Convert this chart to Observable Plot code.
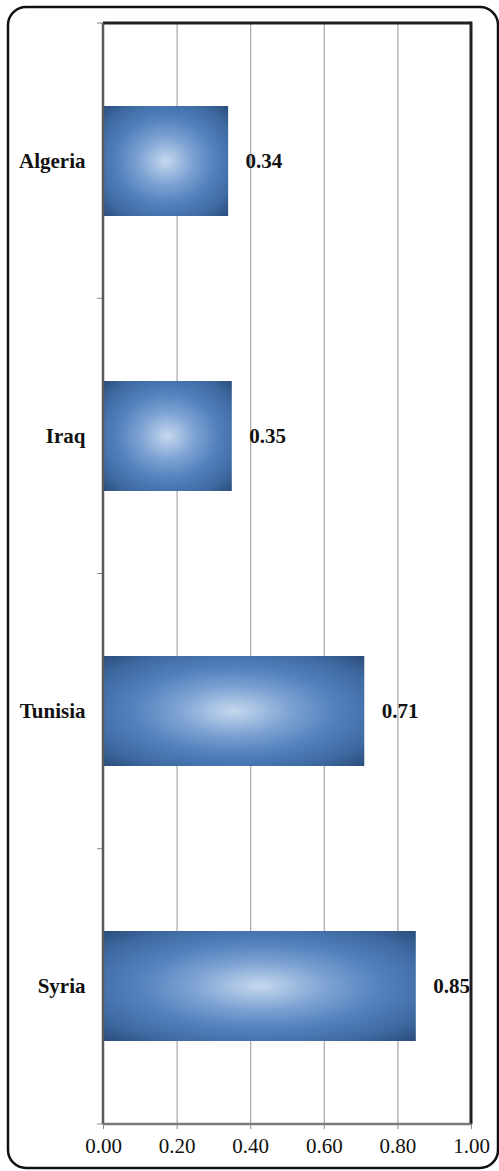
<!DOCTYPE html>
<html><head><meta charset="utf-8">
<script src="https://cdn.jsdelivr.net/npm/d3@7"></script>
<script src="https://cdn.jsdelivr.net/npm/@observablehq/plot@0.6"></script>
<style>
body{margin:0;background:#fff;}
svg{display:block}
svg text {font-family: "Liberation Serif", "Times New Roman", serif !important;}
</style>
</head><body><div id="chart"></div>
<script>
const countries = ["Algeria", "Iraq", "Tunisia", "Syria"];
const values = [0.34, 0.35, 0.71, 0.85];
const xTicks = [0, 0.2, 0.4, 0.6, 0.8, 1.0];

const data = countries.map((c, i) => ({country: c, value: values[i]}));
const W = 499, H = 1171;
const font = "Liberation Serif";

function gradientDefs() {
  const g = d3.create("svg:g");
  const rg = g.append("defs").append("radialGradient")
    .attr("id", "barGrad").attr("cx", "50%").attr("cy", "50%").attr("r", "71%");
  [[0, "#c6d8ee"], [0.3, "#7ea3d3"], [0.55, "#5281bd"], [0.8, "#3e6aa2"], [1, "#2b4c7b"]]
    .forEach(([o, c]) => rg.append("stop").attr("offset", o).attr("stop-color", c));
  return g.node();
}

function decor(index, scales, values, dims) {
  const {width, height, marginLeft, marginRight, marginTop, marginBottom} = dims;
  const l = marginLeft, r = width - marginRight, t = marginTop, b = height - marginBottom;
  const g = d3.create("svg:g");
  g.append("rect").attr("x", 8).attr("y", 7).attr("width", 490).attr("height", 1161)
    .attr("rx", 18).attr("fill", "none").attr("stroke", "#111").attr("stroke-width", 2.5);
  const n = countries.length;
  for (let i = 0; i <= n; i++) {
    const yy = t + i * (b - t) / n;
    g.append("line").attr("x1", l - 6).attr("x2", l).attr("y1", yy).attr("y2", yy)
      .attr("stroke", "#888").attr("stroke-width", 1);
  }
  g.append("line").attr("x1", l).attr("x2", r).attr("y1", t).attr("y2", t)
    .attr("stroke", "#231f20").attr("stroke-width", 3);
  g.append("line").attr("x1", r).attr("x2", r).attr("y1", t - 1.5).attr("y2", b)
    .attr("stroke", "#231f20").attr("stroke-width", 3);
  g.append("line").attr("x1", l).attr("x2", l).attr("y1", t).attr("y2", b)
    .attr("stroke", "#5a5a5a").attr("stroke-width", 2.5);
  g.append("line").attr("x1", l).attr("x2", r).attr("y1", b).attr("y2", b)
    .attr("stroke", "#7a7a7a").attr("stroke-width", 2.5);
  return g.node();
}

const chart = Plot.plot({
  width: W, height: H,
  marginLeft: 103, marginRight: 28, marginTop: 23, marginBottom: 47,
  style: {fontFamily: font, fontSize: "21px", color: "#111", background: "#fff"},
  x: {domain: [0, 1], ticks: xTicks, label: null},
  y: {domain: countries, paddingInner: 0.6, paddingOuter: 0.3, label: null},
  marks: [
    gradientDefs,
    Plot.gridX(xTicks.slice(1, -1), {stroke: "#a6a6a6", strokeOpacity: 1, strokeWidth: 1.2}),
    Plot.barX(data, {x: "value", y: "country", fill: "url(#barGrad)"}),
    Plot.text(data, {x: "value", y: "country", text: d => d.value.toFixed(2), dx: 17,
      textAnchor: "start", fontWeight: "bold", fontSize: 21, fill: "#111"}),
    Plot.axisX({ticks: xTicks, tickFormat: d3.format(".2f"), tickSize: 5, tickPadding: 9,
      stroke: "#888", fontSize: 21, label: null}),
    Plot.axisY({tickSize: 0, tickPadding: 18, fontWeight: "bold", fontSize: 21, label: null}),
    decor
  ]
});
document.getElementById("chart").append(chart);
</script>
</body></html>
